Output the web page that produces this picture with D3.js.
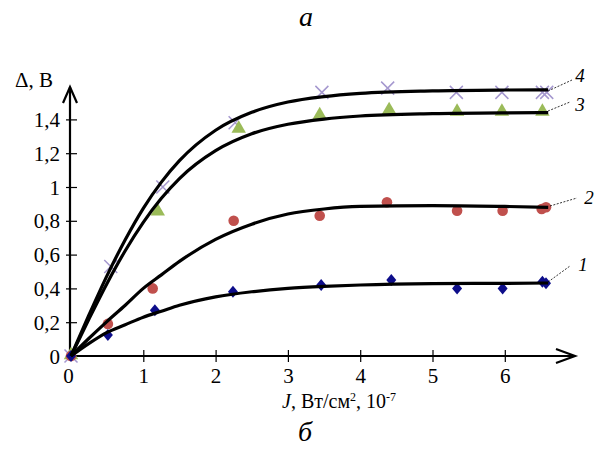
<!DOCTYPE html>
<html><head><meta charset="utf-8">
<script src="https://cdn.jsdelivr.net/npm/d3@7"></script>
<style>body{margin:0;background:#fff}svg{display:block}</style>
</head><body>
<svg id="c" width="600" height="453" font-family="Liberation Serif, Times New Roman, serif"></svg>
<script>
// ---- data ----
const xTicks = [0, 1, 2, 3, 4, 5, 6];
const yTicks = [0, 0.2, 0.4, 0.6, 0.8, 1, 1.2, 1.4];
const yTickLabels = ["0", "0,2", "0,4", "0,6", "0,8", "1", "1,2", "1,4"];

// fitted curves
const curveX = [0, 0.25, 0.5, 0.75, 1, 1.25, 1.5, 2, 2.5, 3, 3.5, 4, 5, 6, 6.6];
const curve1 = [0, 0.075, 0.14, 0.185, 0.23, 0.265, 0.30, 0.35, 0.38, 0.40, 0.412, 0.42, 0.428, 0.43, 0.432];
const curve2 = [0, 0.105, 0.205, 0.30, 0.40, 0.48, 0.56, 0.69, 0.78, 0.84, 0.87, 0.885, 0.89, 0.885, 0.88];
const curve3 = [0, 0.22, 0.431, 0.623, 0.791, 0.933, 1.05, 1.215, 1.315, 1.371, 1.402, 1.42, 1.434, 1.439, 1.44];
const curve4 = [0, 0.244, 0.477, 0.688, 0.874, 1.029, 1.156, 1.336, 1.442, 1.503, 1.535, 1.554, 1.569, 1.574, 1.575];

// measured points
const s1x = [0, 0.51, 1.16, 2.24, 3.46, 4.43, 5.34, 5.97, 6.52, 6.57];
const s1y = [0, 0.125, 0.27, 0.38, 0.42, 0.45, 0.40, 0.40, 0.44, 0.43];
const s2x = [0, 0.51, 1.13, 2.25, 3.44, 4.37, 5.34, 5.97, 6.51, 6.57];
const s2y = [0, 0.19, 0.40, 0.80, 0.83, 0.91, 0.86, 0.86, 0.87, 0.88];
const s3x = [0, 1.2, 2.32, 3.44, 4.4, 5.34, 5.96, 6.52];
const s3y = [0, 0.85, 1.34, 1.42, 1.45, 1.44, 1.44, 1.44];
const s4x = [0, 0.55, 1.27, 2.27, 3.47, 4.38, 5.33, 5.96, 6.52, 6.58];
const s4y = [0, 0.53, 1.0, 1.38, 1.56, 1.585, 1.56, 1.56, 1.56, 1.56];

const curveLabels = ["1", "2", "3", "4"];

// ---- drawing ----
const FONT = "Liberation Serif, Times New Roman, serif";
const svg = d3.select("#c");
const x = d3.scaleLinear().domain([0, 7]).range([71, 577.1]);
const y = d3.scaleLinear().domain([0, 1.6]).range([356, 85.6]);

// panel letters
svg.append("text").attr("x", 306).attr("y", 26).attr("text-anchor", "middle")
  .attr("font-size", 28).attr("font-style", "italic").text("а");
svg.append("text").attr("x", 305).attr("y", 441).attr("text-anchor", "middle")
  .attr("font-size", 28).attr("font-style", "italic").text("б");

// axes lines + arrows
const ax = svg.append("g").attr("stroke", "#000").attr("fill", "none");
ax.append("line").attr("x1", 70).attr("y1", 356).attr("x2", 575).attr("y2", 356).attr("stroke-width", 2.2);
ax.append("line").attr("x1", 70).attr("y1", 357).attr("x2", 70).attr("y2", 87).attr("stroke-width", 2.2);
ax.append("path").attr("d", "M556,349 L575,356 L556,363").attr("stroke-width", 2.2);
ax.append("path").attr("d", "M63,103 L70,87 L77,103").attr("stroke-width", 2.2);

// x axis ticks
const xa = svg.append("g").attr("transform", "translate(0,356)")
  .call(d3.axisBottom(x).tickValues(xTicks).tickSize(6).tickFormat(d3.format("d")));
xa.attr("font-family", FONT);
xa.select(".domain").remove();
xa.selectAll(".tick line").attr("y1", -6).attr("y2", 6).attr("stroke", "#000").attr("stroke-width", 1.2)
  .filter(d => d === 0).remove();
xa.selectAll(".tick text").attr("font-size", 21)
  .attr("fill", "#000").attr("y", 12).attr("dy", "0.71em").attr("dx", d => d === 0 ? -3 : 0);

// y axis ticks
const ya = svg.append("g").attr("transform", "translate(70,0)")
  .call(d3.axisLeft(y).tickValues(yTicks).tickSize(4).tickFormat((d, i) => yTickLabels[i]));
ya.attr("font-family", FONT);
ya.select(".domain").remove();
ya.selectAll(".tick line").attr("x1", -4).attr("x2", 7).attr("stroke", "#000").attr("stroke-width", 1.2)
  .filter(d => d === 0).remove();
ya.selectAll(".tick text").attr("font-size", 21)
  .attr("fill", "#000").attr("x", -10).attr("dy", "0.34em");

// axis titles
svg.append("text").attr("x", 15).attr("y", 87).attr("font-size", 21).text("Δ, В");
const xt = svg.append("text").attr("x", 282).attr("y", 408).attr("font-size", 20);
xt.append("tspan").attr("font-style", "italic").text("J");
xt.append("tspan").text(", Вт/см");
xt.append("tspan").attr("font-size", 12).attr("dy", -7).text("2");
xt.append("tspan").attr("dy", 7).text(", 10");
xt.append("tspan").attr("font-size", 12).attr("dy", -7).text("-7");

// markers
const m = svg.append("g");
// series 4: X marks
s4x.forEach((v, i) => {
  const cx = x(v), cy = y(s4y[i]), r = 6.5;
  m.append("path").attr("d", `M${cx-r},${cy-r}L${cx+r},${cy+r}M${cx-r},${cy+r}L${cx+r},${cy-r}`)
    .attr("stroke", "#a598cf").attr("stroke-width", 1.5).attr("fill", "none");
});
// series 3: triangles
const tri = d3.symbol().type(d3.symbolTriangle).size(90);
s3x.forEach((v, i) => {
  m.append("path").attr("d", tri()).attr("transform", `translate(${x(v)},${y(s3y[i]) - 1})`)
    .attr("fill", "#9bbb59");
});
// series 2: circles
s2x.forEach((v, i) => {
  m.append("circle").attr("cx", x(v)).attr("cy", y(s2y[i])).attr("r", 5.3).attr("fill", "#c0504d");
});
// series 1: diamonds
s1x.forEach((v, i) => {
  const cx = x(v), cy = y(s1y[i]);
  m.append("path").attr("d", `M${cx},${cy-6}L${cx+5},${cy}L${cx},${cy+6}L${cx-5},${cy}Z`).attr("fill", "#0d0d8a");
});

// curves
const line = d3.line().x(d => x(d[0])).y(d => y(d[1])).curve(d3.curveMonotoneX);
[curve1, curve2, curve3, curve4].forEach(c => {
  svg.append("path").datum(curveX.map((v, i) => [v, c[i]])).attr("d", line)
    .attr("fill", "none").attr("stroke", "#000").attr("stroke-width", 3.2);
});

// leader lines + curve labels
const leaders = [
  {x1: 548, y1: 282, x2: 570, y2: 266, lx: 583, ly: 271},
  {x1: 550, y1: 206, x2: 577, y2: 198, lx: 589, ly: 204},
  {x1: 548, y1: 111, x2: 570, y2: 102, lx: 580, ly: 111},
  {x1: 548, y1: 91, x2: 572, y2: 80, lx: 580, ly: 82}
];
leaders.forEach((l, i) => {
  svg.append("line").attr("x1", l.x1).attr("y1", l.y1).attr("x2", l.x2).attr("y2", l.y2)
    .attr("stroke", "#000").attr("stroke-width", 0.8).attr("stroke-dasharray", "2,1.5");
  svg.append("text").attr("x", l.lx).attr("y", l.ly).attr("text-anchor", "middle")
    .attr("font-size", 19).attr("font-style", "italic").text(curveLabels[i]);
});
</script>
</body></html>
